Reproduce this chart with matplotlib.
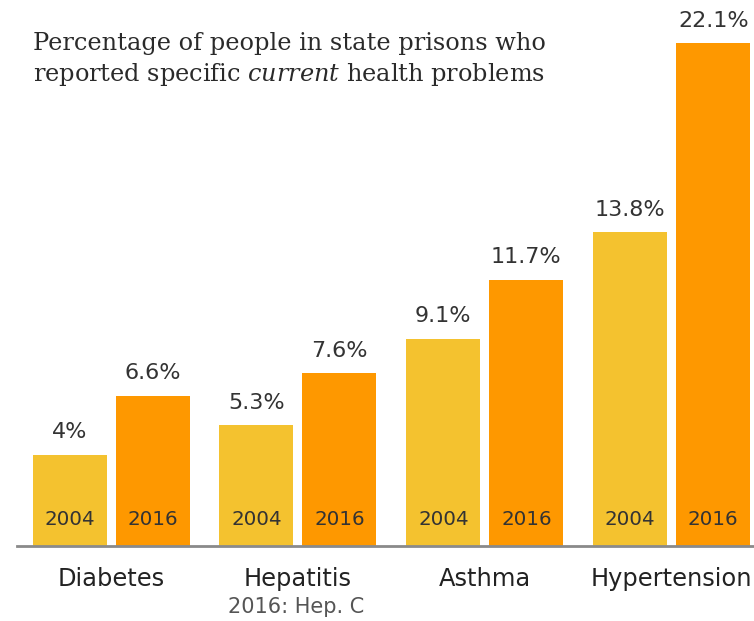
import numpy as np
import matplotlib
matplotlib.use('Agg')
import matplotlib.pyplot as plt

# Share of state prisoners reporting current health problems
conditions = ['Diabetes', 'Hepatitis', 'Asthma', 'Hypertension']
years = ['2004', '2016']
pct_2004 = [4.0, 5.3, 9.1, 13.8]
pct_2016 = [6.6, 7.6, 11.7, 22.1]
value_labels_2004 = ['4%', '5.3%', '9.1%', '13.8%']
value_labels_2016 = ['6.6%', '7.6%', '11.7%', '22.1%']

COLOR_2004 = '#F4C22F'
COLOR_2016 = '#FE9800'
TEXT_DARK = '#333333'
SANS = 'DejaVu Sans'
SERIF = 'DejaVu Serif'

plt.rcParams['mathtext.fontset'] = 'custom'
plt.rcParams['mathtext.rm'] = SERIF
plt.rcParams['mathtext.it'] = SERIF + ':italic'

fig = plt.figure(figsize=(7.54, 6.21), dpi=100)
ax = fig.add_axes([17 / 754, 75 / 621, 1 - 17 / 754, 546 / 621])

x = np.arange(len(conditions))
width = 0.396
offset = 0.222

bars_a = ax.bar(x - offset, pct_2004, width, color=COLOR_2004, zorder=2)
bars_b = ax.bar(x + offset, pct_2016, width, color=COLOR_2016, zorder=2)

for bars, labels, year in [(bars_a, value_labels_2004, years[0]),
                           (bars_b, value_labels_2016, years[1])]:
    for bar, lab in zip(bars, labels):
        cx = bar.get_x() + bar.get_width() / 2
        ax.annotate(lab, (cx, bar.get_height()), xytext=(0, 9),
                    textcoords='offset points', ha='center', va='bottom',
                    fontsize=16, family=SANS, color=TEXT_DARK)
        ax.annotate(year, (cx, 0), xytext=(0, 12), textcoords='offset points',
                    ha='center', va='bottom', fontsize=14.3, family=SANS,
                    color=TEXT_DARK, zorder=3)

ax.set_xlim(-0.503, 3.44)
ax.set_ylim(0, 24)
for side in ['top', 'right', 'left']:
    ax.spines[side].set_visible(False)
ax.spines['bottom'].set_color('#8a8a8a')
ax.spines['bottom'].set_linewidth(2)
ax.set_yticks([])
ax.set_xticks(x)
ax.set_xticklabels(conditions, fontsize=17.4, family=SANS, color='#222222')
ax.tick_params(axis='x', length=0, pad=15)
ax.get_xticklabels()[-1].set_x(3.43)

fig.text(296 / 754, 1 - 607 / 621, '2016: Hep. C', ha='center', va='center',
         fontsize=15, family=SANS, color='#555555')

fig.text(33 / 754, 1 - 50 / 621, 'Percentage of people in state prisons who',
         ha='left', va='baseline', fontsize=17.3, family=SERIF,
         color='#2a2a2a')
fig.text(33 / 754, 1 - 81 / 621,
         r'reported specific $\mathit{current}$ health problems',
         ha='left', va='baseline', fontsize=17.3, family=SERIF,
         color='#2a2a2a')

fig.savefig('out.png', dpi=100)
